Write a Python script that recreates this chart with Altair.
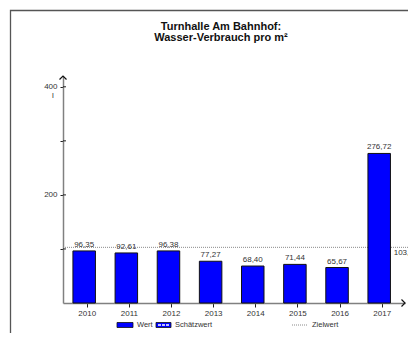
import altair as alt
import pandas as pd

# ---- data ----
years = [2010, 2011, 2012, 2013, 2014, 2015, 2016, 2017]
values = [96.35, 92.61, 96.38, 77.27, 68.40, 71.44, 65.67, 276.72]
zielwert = [103.0]
y_ticks = [100, 200, 300, 400]
y_labels = [200, 400]
title_lines = ["Turnhalle Am Bahnhof:", "Wasser-Verbrauch pro m²"]
legend_labels = ["Wert", "Schätzwert", "Zielwert"]
unit = ["l"]

# ---- layout / style ----
W, H = 342, 227
FONT = "Liberation Sans"
TXT = "#333333"
X_DOM = [2009.438, 2017.553]
Y_DOM = [0, 420]

df = pd.DataFrame({"Jahr": years, "Wert": values})
zdf = pd.DataFrame({"z": zielwert})
one = pd.DataFrame({"k": [0]})

xs = alt.Scale(domain=X_DOM, nice=False, zero=False, padding=0)
ys = alt.Scale(domain=Y_DOM, nice=False, padding=0)
fmt = "replace(format(datum.{f}, '.2f'), '.', ',')"

frame = alt.Chart(one).mark_rect(fillOpacity=0, stroke="#555555", strokeWidth=1.3).encode(
    x=alt.value(-52.5), x2=alt.value(420), y=alt.value(-65.5), y2=alt.value(400)
)

title_df = pd.DataFrame({"t": title_lines, "py": [-46, -35]})
title = alt.Chart(title_df).mark_text(
    align="center", baseline="alphabetic", fontSize=11, font=FONT, fontWeight="bold", color="#111111"
).encode(x=alt.value(158), y=alt.Y("py:Q", scale=None), text="t:N")

ziel = alt.Chart(zdf).mark_rule(color="#8a8a8a", strokeDash=[1, 1], strokeWidth=1).encode(
    y=alt.Y("z:Q", scale=ys), x=alt.value(0), x2=alt.value(W + 10)
)

bars = alt.Chart(df).mark_bar(size=22.5, xOffset=-2.5, color="#0000ff", stroke="#111111", strokeWidth=1).encode(
    x=alt.X("Jahr:Q", scale=xs, title=None,
            axis=alt.Axis(values=years, format="d", tickSize=4, tickColor="#222222", tickWidth=1,
                          domainColor="#808080", domainWidth=1.5, labelFontSize=8, labelFont=FONT,
                          labelColor=TXT, labelPadding=2, grid=False, labelFlush=False)),
    y=alt.Y("Wert:Q", scale=ys, title=None,
            axis=alt.Axis(values=y_ticks,
                          labelExpr="indexof([" + ",".join(str(v) for v in y_labels) + "], datum.value) >= 0 ? datum.label : ''",
                          tickSize=3, tickColor="#222222", tickWidth=1, domainColor="#808080", domainWidth=1.5,
                          labelFontSize=8, labelFont=FONT, labelColor=TXT, labelPadding=3, grid=False)),
    y2=alt.value(H - 4),
)

labels = alt.Chart(df).transform_calculate(lab=fmt.format(f="Wert")).mark_text(
    dx=-2.5, dy=-2, baseline="bottom", fontSize=8, font=FONT, color=TXT
).encode(x=alt.X("Jahr:Q", scale=xs), y=alt.Y("Wert:Q", scale=ys), text="lab:N")

ziel_lab = alt.Chart(zdf).transform_calculate(lab=fmt.format(f="z")).mark_text(
    align="left", baseline="top", dx=12, dy=2, fontSize=8, font=FONT, color=TXT
).encode(x=alt.datum(years[-1]), y=alt.Y("z:Q", scale=ys), text="lab:N")

ytick_in = alt.Chart(pd.DataFrame({"t": y_ticks})).mark_rule(color="#222222", strokeWidth=1).encode(
    y=alt.Y("t:Q", scale=ys), x=alt.value(0), x2=alt.value(3)
)

unit_lab = alt.Chart(pd.DataFrame({"u": unit, "v": [y_labels[-1]]})).mark_text(
    align="center", baseline="middle", dy=9, fontSize=8, font=FONT, color=TXT
).encode(x=alt.value(-10), y=alt.Y("v:Q", scale=ys), text="u:N")

arrow_up = alt.Chart(pd.DataFrame({"v": [Y_DOM[1]]})).mark_point(
    shape="M-1,1L0,0L1,1", size=49, filled=False, stroke="#111111", strokeWidth=1.2, opacity=1
).encode(x=alt.value(0), y=alt.Y("v:Q", scale=ys))

arrow_right = alt.Chart(pd.DataFrame({"v": [X_DOM[1]]})).mark_point(
    shape="M-1,-1L0,0L-1,1", size=49, filled=False, stroke="#111111", strokeWidth=1.2, opacity=1
).encode(x=alt.X("v:Q", scale=xs), y=alt.value(H))

# ---- hand-drawn legend (bottom) ----
LY = H + 22
sw_wert = alt.Chart(one).mark_rect(fill="#0000ff", stroke="#111111", strokeWidth=0.8).encode(
    x=alt.value(54), x2=alt.value(70), y=alt.value(LY - 2.5), y2=alt.value(LY + 2.5))
sw_sch = alt.Chart(one).mark_rect(fill="#0000ff", stroke="#111111", strokeWidth=0.8).encode(
    x=alt.value(93), x2=alt.value(108), y=alt.value(LY - 2.5), y2=alt.value(LY + 2.5))
sw_sch_in = alt.Chart(one).mark_rule(color="#ffffff", strokeWidth=1.5, strokeDash=[3, 1]).encode(
    x=alt.value(95), x2=alt.value(106), y=alt.value(LY))
sw_ziel = alt.Chart(one).mark_rule(color="#8a8a8a", strokeWidth=1, strokeDash=[1, 1]).encode(
    x=alt.value(229), x2=alt.value(245), y=alt.value(LY))
leg_df = pd.DataFrame({"lab": legend_labels, "px": [74, 112, 249]})
leg_txt = alt.Chart(leg_df).mark_text(align="left", baseline="middle", fontSize=7.5, font=FONT, color=TXT).encode(
    x=alt.X("px:Q", scale=None), y=alt.value(LY), text="lab:N")

chart = alt.layer(
    frame, title, ziel, bars, labels, ziel_lab, ytick_in, unit_lab, arrow_up, arrow_right,
    sw_wert, sw_sch, sw_sch_in, sw_ziel, leg_txt
).properties(
    width=W, height=H,
    autosize=alt.AutoSizeParams(type="none"),
    padding={"left": 55, "top": 68, "right": 3, "bottom": 30},
).configure_view(stroke=None)

chart.save("out.html", embed_options={"renderer": "svg", "actions": False})
